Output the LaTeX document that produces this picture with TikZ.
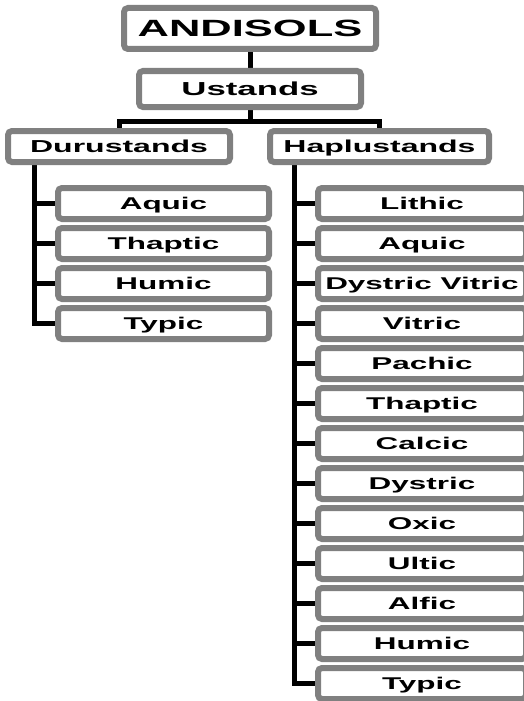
\documentclass[tikz,border=0pt]{standalone}
\usepackage{fontspec}
\usetikzlibrary{backgrounds}
\newfontfamily\boxfont{Liberation Sans}[FakeStretch=1.85]
\definecolor{BoxG} {HTML}{808080}
\definecolor{Ink}  {HTML}{000000}
\tikzset{
  box/.style args={#1/#2}{
    rectangle, rounded corners=4pt,
    draw=BoxG, fill=white, text=Ink,
    line width=6pt, inner sep=0pt, text depth=0pt,
    minimum width=#1, minimum height=#2,
  },
  topbox/.style={box=252pt/41pt, text height=16.8pt,
    font=\boxfont\bfseries\fontsize{23.5}{24}\selectfont},
  midbox/.style={box=222pt/36pt, text height=13.5pt,
    font=\boxfont\bfseries\fontsize{18.8}{20}\selectfont},
  grpbox/.style={box=#1/31pt, text height=12.4pt,
    font=\boxfont\bfseries\fontsize{17.3}{18}\selectfont},
  leaf/.style={box=#1/31pt, text height=12.2pt,
    font=\boxfont\bfseries\fontsize{17}{18}\selectfont},
  tree/.style={draw=Ink, line width=5pt},
}
\begin{document}
\begin{tikzpicture}[x=1pt,y=-1pt]
  \useasboundingbox (0,0) rectangle (524,701);
  \clip (0,0) rectangle (524,701);
  % order and suborder
  \node[topbox] (andisols) at (250,28.5) {ANDISOLS};
  \node[midbox] (ustands)  at (250,89)   {Ustands};
  \node[grpbox=222pt] (durus)  at (119,146.5)   {Durustands};
  \node[grpbox=219pt] (haplus) at (379.5,146.5) {Haplustands};
  % subgroups
  \foreach \name [count=\i] in {Aquic, Thaptic, Humic, Typic}
    \node[leaf=211pt] (d\i) at (163.5,163.5+40*\i) {\name};
  \foreach \name [count=\i] in {Lithic, Aquic, Dystric Vitric, Vitric, Pachic,
      Thaptic, Calcic, Dystric, Oxic, Ultic, Alfic, Humic, Typic}
    \node[leaf=208pt] (h\i) at (422,163.5+40*\i) {\name};
  \coordinate (split) at (250,121);
  \coordinate (dtrunk) at (34.5,146.5);
  \coordinate (htrunk) at (294,146.5);
  \begin{scope}[on background layer]
    \draw[tree] (andisols) -- (ustands) -- (split);
    \draw[tree] (durus) |- (split) -| (haplus);
    \draw[tree] (dtrunk) |- (d4);
    \foreach \i in {1,...,3} \draw[tree] (dtrunk |- d\i) -- (d\i);
    \draw[tree] (htrunk) |- (h13);
    \foreach \i in {1,...,12} \draw[tree] (htrunk |- h\i) -- (h\i);
  \end{scope}
\end{tikzpicture}
\end{document}
